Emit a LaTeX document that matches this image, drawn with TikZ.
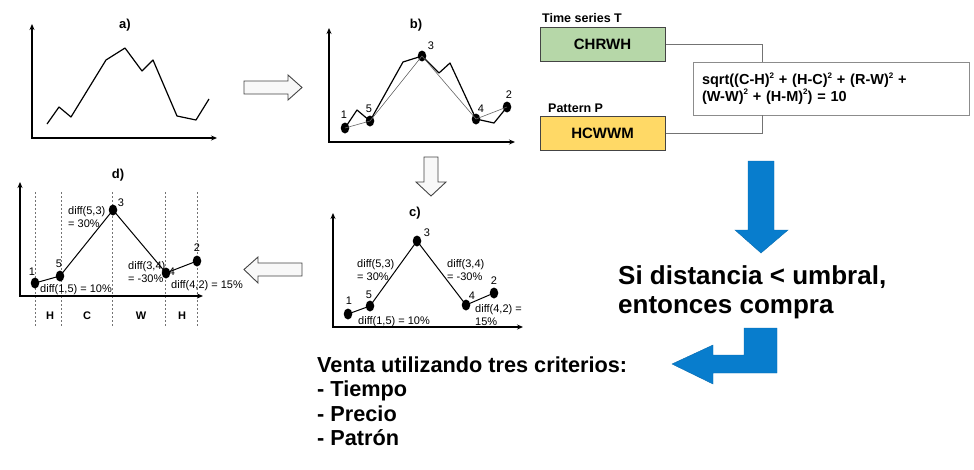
\documentclass[tikz,border=0pt]{standalone}
\usepackage{fontspec}
\setmainfont{Liberation Sans}
\usetikzlibrary{shapes.geometric,arrows.meta}
\definecolor{gbox}{HTML}{B6D7A8}
\definecolor{ybox}{HTML}{FFD966}
\definecolor{arrblue}{RGB}{8,125,205}
\definecolor{edgegray}{HTML}{444444}
\definecolor{lightfill}{HTML}{F8F8F8}
\newcommand{\sqr}{\raisebox{0.45em}{\fontsize{8}{8}\selectfont 2}}
\begin{document}
\begin{tikzpicture}[x=1pt,y=-1pt,
 axis/.style={line width=1.1pt, {Stealth[length=6pt,width=5pt]}-{Stealth[length=6pt,width=5pt]}},
 curve/.style={line width=1.2pt, line join=round},
 thinline/.style={line width=0.6pt, black!60},
 segline/.style={line width=1pt, line join=round},
 pt/.style={ellipse, fill=black, minimum width=8.5pt, minimum height=11pt, inner sep=0pt},
 num/.style={font=\fontsize{11}{13}\selectfont, inner sep=0pt},
 lbl/.style={font=\fontsize{11}{13}\selectfont, inner sep=0pt, align=left, anchor=west},
 ttl/.style={font=\bfseries\fontsize{13}{15}\selectfont, inner sep=0pt},
 hollow/.style={draw=edgegray, fill=lightfill, line width=0.9pt, line join=miter},
 bluearrow/.style={fill=arrblue, draw=arrblue!85!black, line width=0.4pt},
 vdash/.style={dash pattern=on 2pt off 2pt, line width=0.6pt, black!55},
 conn/.style={line width=0.8pt, black!55},
 seqbox/.style={draw=edgegray, line width=1pt, minimum width=125pt, minimum height=34pt, font=\bfseries\fontsize{15}{17}\selectfont},
 boxtitle/.style={anchor=west, inner sep=0pt, font=\bfseries\fontsize{12.5}{14}\selectfont},
]
\useasboundingbox (0,0) rectangle (974,469);

% ---------- panel a ----------
\coordinate (aY) at (32,24); \coordinate (aO) at (32,138); \coordinate (aX) at (217,138);
\draw[axis] (aY) -- (aO) -- (aX);
\node[ttl] (ta) at (125,25) {a)};
\draw[curve] (47,124) -- (59,107) -- (71,117) -- (106,60) -- (125,48) -- (142,71) -- (153,60) -- (177,116) -- (196,120) -- (209,99);

% hollow arrow a -> b
\draw[hollow] (244,81) -- (288,81) -- (288,75) -- (302,87.5) -- (288,100) -- (288,94) -- (244,94) -- cycle;

% ---------- panel b ----------
\coordinate (bY) at (329,28); \coordinate (bO) at (329,142); \coordinate (bX) at (515,142);
\draw[axis] (bY) -- (bO) -- (bX);
\node[ttl] (tb) at (416,25) {b)};
\node[pt] (b1) at (345,128) {};
\node[pt] (b5) at (370,121) {};
\node[pt] (b3) at (422,56) {};
\node[pt] (b4) at (476,119) {};
\node[pt] (b2) at (507,107) {};
\draw[curve] (b1.center) -- (357,110) -- (b5.center) -- (403,62) -- (b3.center) -- (439,73) -- (450,63) -- (b4.center) -- (494,123) -- (b2.center);
\draw[thinline] (b1.center) -- (b5.center) -- (b3.center) -- (b4.center) -- (b2.center);
\node[num] (nb1) at (344,115) {1};
\node[num] (nb5) at (369,109) {5};
\node[num] (nb3) at (431,46) {3};
\node[num] (nb4) at (481,109) {4};
\node[num] (nb2) at (509,95) {2};

% hollow arrow b -> c
\draw[hollow] (424,157) -- (438,157) -- (438,182) -- (446,182) -- (431,196) -- (416,182) -- (424,182) -- cycle;

% ---------- panel c ----------
\coordinate (cY) at (333,213); \coordinate (cO) at (333,327); \coordinate (cX) at (523,327);
\draw[axis] (cY) -- (cO) -- (cX);
\node[ttl] (tc) at (415,213) {c)};
\node[pt] (c1) at (348,314) {};
\node[pt] (c5) at (370,306) {};
\node[pt] (c3) at (417,241) {};
\node[pt] (c4) at (466,305) {};
\node[pt] (c2) at (494,293) {};
\draw[segline] (c1.center) -- (c5.center) -- (c3.center) -- (c4.center) -- (c2.center);
\node[num] (nc1) at (349,301) {1};
\node[num] (nc5) at (369,295) {5};
\node[num] (nc3) at (427,233) {3};
\node[num] (nc4) at (472,296) {4};
\node[num] (nc2) at (494,281) {2};
\node[lbl] (c53) at (357,270) {diff(5,3)\\= 30\%};
\node[lbl] (c34) at (447,270) {diff(3,4)\\= -30\%};
\node[lbl] (c15) at (358,322) {diff(1,5) = 10\%};
\node[lbl] (c42) at (475,315) {diff(4,2) =\\15\%};

% hollow arrow c -> d
\draw[hollow] (244,269.5) -- (258,257) -- (258,263) -- (302,263) -- (302,276) -- (258,276) -- (258,283) -- cycle;

% ---------- panel d ----------
\foreach \x in {35,61,112,165,197} \draw[vdash] (\x,192) -- (\x,327);
\coordinate (dY) at (20,182); \coordinate (dO) at (20,296); \coordinate (dX) at (203,296);
\draw[axis] (dY) -- (dO) -- (dX);
\node[ttl] (td) at (118,175) {d)};
\node[pt] (d1) at (35,283) {};
\node[pt] (d5) at (60,276) {};
\node[pt] (d3) at (113,210) {};
\node[pt] (d4) at (166,273) {};
\node[pt] (d2) at (197,261) {};
\draw[segline] (d1.center) -- (d5.center) -- (d3.center) -- (d4.center) -- (d2.center);
\node[num] (nd1) at (32,272) {1};
\node[num] (nd5) at (59,264) {5};
\node[num] (nd3) at (121,203) {3};
\node[num] (nd4) at (172,272) {4};
\node[num] (nd2) at (197,248) {2};
\node[lbl] (d53) at (68,217) {diff(5,3)\\= 30\%};
\node[lbl] (d34) at (128,272) {diff(3,4)\\= -30\%};
\node[lbl] (d15) at (40,290) {diff(1,5) = 10\%};
\node[lbl] (d42) at (171,286) {diff(4,2) = 15\%};
\node[ttl, font=\bfseries\fontsize{11}{13}\selectfont] (sH1) at (50,316) {H};
\node[ttl, font=\bfseries\fontsize{11}{13}\selectfont] (sC) at (87,316) {C};
\node[ttl, font=\bfseries\fontsize{11}{13}\selectfont] (sW) at (141,316) {W};
\node[ttl, font=\bfseries\fontsize{11}{13}\selectfont] (sH2) at (182,316) {H};

% ---------- distance ----------
\node[boxtitle] (tsT) at (542,18) {Time series T};
\node[seqbox, fill=gbox] (T) at (602.5,44) {CHRWH};
\node[boxtitle] (tsP) at (548,108) {Pattern P};
\node[seqbox, fill=ybox] (P) at (602.5,133) {HCWWM};
\node[draw=black!45, line width=0.9pt, fill=white, minimum width=276pt, minimum height=53pt, text width=258pt, inner xsep=9pt, align=left, font=\bfseries\fontsize{14.5}{15}\selectfont] (F) at (831,88.5)
 {sqrt((C-H)\sqr{} + (H-C)\sqr{} + (R-W)\sqr{} +\\(W-W)\sqr{} + (H-M)\sqr) = 10};
\coordinate (jT) at (762,62);
\coordinate (jP) at (762,115);
\draw[conn] (T.east) -| (jT);
\draw[conn] (P.east) -| (jP);

% ---------- blue arrows and conclusions ----------
\draw[bluearrow] (748,161) -- (774,161) -- (774,230) -- (788,230) -- (761,253) -- (735,230) -- (748,230) -- cycle;
\node[anchor=west, inner sep=0pt, align=left, font=\bfseries\fontsize{26}{29}\selectfont] (cond) at (618,292.5) {Si distancia < umbral,\\entonces compra};
\draw[bluearrow] (777,328) -- (744,328) -- (744,355) -- (713,355) -- (713,345) -- (672,364) -- (713,384) -- (713,373) -- (777,373) -- cycle;
\node[anchor=north west, inner sep=0pt, align=left, font=\bfseries\fontsize{21.7}{24.5}\selectfont] (sell) at (317,356.5) {Venta utilizando tres criterios:\\- Tiempo\\- Precio\\- Patrón};
\end{tikzpicture}
\end{document}
